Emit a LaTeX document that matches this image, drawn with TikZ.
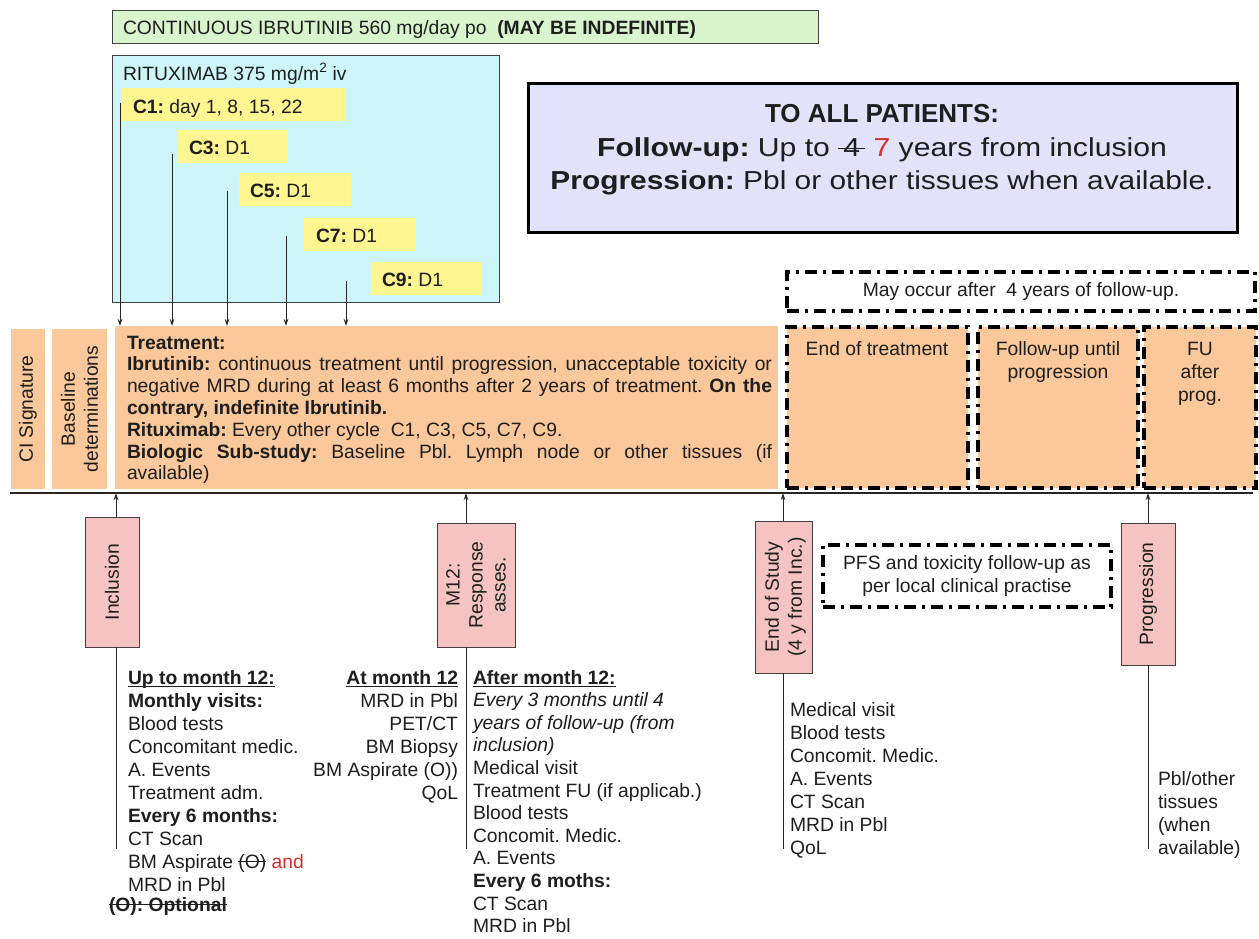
\documentclass[tikz,border=0pt]{standalone}
\usepackage{fontspec}
\setmainfont{Liberation Sans}
\usepackage{graphicx}
\usetikzlibrary{arrows.meta}
\definecolor{orangefill}{RGB}{250,200,155}
\definecolor{pinkfill}{RGB}{245,196,194}
\definecolor{cyanfill}{RGB}{206,246,250}
\definecolor{yellowfill}{RGB}{255,245,145}
\definecolor{greenfill}{RGB}{216,245,205}
\definecolor{purplefill}{RGB}{226,226,250}
\definecolor{redtext}{RGB}{215,45,45}
\definecolor{ink}{RGB}{30,30,30}
\frenchspacing
\newcommand{\tf}{\fontsize{19.3}{23}\selectfont}
\newsavebox{\lnbox}
\newcommand{\myul}[1]{\leavevmode\sbox{\lnbox}{#1}\rlap{\rule[-3.2pt]{\wd\lnbox}{1.3pt}}\usebox{\lnbox}}
\newcommand{\mystrike}[2][5.6pt]{\leavevmode\sbox{\lnbox}{#2}\rlap{\rule[#1]{\wd\lnbox}{1.4pt}}\usebox{\lnbox}}
\begin{document}
\begin{tikzpicture}[x=1pt,y=-1pt,font=\tf,text=ink,
  rect/.style={inner sep=0pt,anchor=north west,outer sep=0pt},
  thinbox/.style={rect,draw=black!75,line width=0.9pt},
  dashdot/.style={line width=3.6pt,dash pattern=on 12pt off 6pt on 3pt off 6pt,draw=black},
  txt/.style={inner sep=0pt,outer sep=0pt},
  conn/.style={draw=black!85,line width=0.9pt},
  arr/.style={conn,-{Stealth[length=7pt,width=4.5pt]}}]
\useasboundingbox (0,0) rectangle (1259,938);
\fill[white] (0,0) rectangle (1259,938);

% ---------- top: drug boxes ----------
\node[thinbox,fill=greenfill,minimum width=706,minimum height=33] (green) at (112,10) {};
\node[txt,anchor=base west] (greent) at (123,34) {CONTINUOUS IBRUTINIB 560 mg/day po\ \ \textbf{(MAY BE INDEFINITE)}};

\node[thinbox,fill=cyanfill,minimum width=387,minimum height=247] (cyan) at (112,55) {};
\node[txt,anchor=base west] (ritux) at (123,80) {RITUXIMAB 375 mg/m\textsuperscript{2} iv};

\node[rect,fill=yellowfill,minimum width=223,minimum height=33] (y1) at (122,88) {};
\node[txt,anchor=base west] (y1t) at (133,113) {\textbf{C1:} day 1, 8, 15, 22};
\node[rect,fill=yellowfill,minimum width=110,minimum height=33] (y3) at (178,130) {};
\node[txt,anchor=base west] (y3t) at (189,154) {\textbf{C3:} D1};
\node[rect,fill=yellowfill,minimum width=112,minimum height=33] (y5) at (239,173) {};
\node[txt,anchor=base west] (y5t) at (250,197) {\textbf{C5:} D1};
\node[rect,fill=yellowfill,minimum width=112,minimum height=33] (y7) at (304,218) {};
\node[txt,anchor=base west] (y7t) at (316,242) {\textbf{C7:} D1};
\node[rect,fill=yellowfill,minimum width=111,minimum height=33] (y9) at (371,262) {};
\node[txt,anchor=base west] (y9t) at (382,286) {\textbf{C9:} D1};

% ---------- summary box ----------
\node[rect,draw=black,line width=3pt,fill=purplefill,minimum width=709,minimum height=149] (allp) at (528,83) {};
\node[txt,anchor=base] (allp1) at (882,122) {\fontsize{26}{30}\selectfont\textbf{TO ALL PATIENTS:}};
\node[txt,anchor=base] (allp2) at (882,156) {\fontsize{26}{30}\selectfont\scalebox{1.16}[1]{\textbf{Follow-up:} Up to \mystrike[7pt]{\,4\,} \textcolor{redtext}{7} years from inclusion}};
\node[txt,anchor=base] (allp3) at (882,189) {\fontsize{26}{30}\selectfont\scalebox{1.15}[1]{\textbf{Progression:} Pbl or other tissues when available.}};

% ---------- phase boxes ----------
\node[rect,fill=orangefill,minimum width=34,minimum height=160] (ci) at (11,329) {};
\node[txt,rotate=90] (cit) at (ci.center) {CI Signature};
\node[rect,fill=orangefill,minimum width=55,minimum height=160] (base) at (52,329) {};
\node[txt,rotate=90,align=center] (baset) at (base.center) {Baseline\\determinations};
\node[rect,fill=orangefill,minimum width=663,minimum height=163] (treat) at (115,326) {};
\node[txt,anchor=base west] (treatt) at (127,349) {\parbox[t]{645pt}{\fontsize{19.3}{21.8}\selectfont
\textbf{Treatment:}\\
\textbf{Ibrutinib:} continuous treatment until progression, unacceptable toxicity or\linebreak
negative MRD during at least 6 months after 2 years of treatment. \textbf{On the}\linebreak
\textbf{contrary, indefinite Ibrutinib.}\\
\textbf{Rituximab:} Every other cycle\ \ C1, C3, C5, C7, C9.\\
\textbf{Biologic Sub-study:} Baseline Pbl. Lymph node or other tissues (if\linebreak
available)}};

\node[rect,dashdot,minimum width=468,minimum height=39] (may) at (787,272) {};
\node[txt] (mayt) at (may.center) {May occur after\ \ 4 years of follow-up.};

\node[rect,dashdot,fill=orangefill,minimum width=181,minimum height=161] (eot) at (787,327) {};
\node[txt,anchor=base] (eott) at (877,355) {End of treatment};
\node[rect,dashdot,fill=orangefill,minimum width=160,minimum height=161] (fup) at (978,327) {};
\node[txt,anchor=base] (fupt) at (1058,355) {\parbox[t]{150pt}{\centering Follow-up until\\progression}};
\node[rect,dashdot,fill=orangefill,minimum width=112,minimum height=161] (fua) at (1144,327) {};
\node[txt,anchor=base] (fuat) at (1200,355) {\parbox[t]{100pt}{\centering FU\\after\\prog.}};

% rituximab arrows
\coordinate (a1) at (120,103);
\coordinate (a3) at (172,154);
\coordinate (a5) at (227,191);
\coordinate (a7) at (286,236);
\coordinate (a9) at (346,281);
\foreach \c in {a1,a3,a5,a7,a9} \draw[arr] (\c) -- (\c |- treat.north);

% ---------- timeline ----------
\coordinate (tlL) at (10,493);
\coordinate (tlR) at (1253,493);
\draw[draw=black!85,line width=1.3pt] (tlL) -- (tlR);

% ---------- milestones ----------
\node[thinbox,fill=pinkfill,minimum width=54,minimum height=130] (incl) at (85,517) {};
\node[txt,rotate=90] (inclt) at (incl.center) {Inclusion};
\node[thinbox,fill=pinkfill,minimum width=78,minimum height=124] (m12) at (437,523) {};
\node[txt,rotate=90,align=center] (m12t) at (m12.center) {M12:\\Response\\asses.};
\node[thinbox,fill=pinkfill,minimum width=57,minimum height=152] (eos) at (755,521) {};
\node[txt,rotate=90,align=center] (eost) at ([xshift=2pt]eos.center) {End of Study\\(4 y from Inc.)};
\node[thinbox,fill=pinkfill,minimum width=54,minimum height=142] (prog) at (1121,523) {};
\node[txt,rotate=90] (progt) at (prog.center) {Progression};

\coordinate (xi) at (116,0);
\coordinate (xm) at (466,0);
\coordinate (xe) at (783,0);
\coordinate (xp) at (1148,0);
\coordinate (lineend) at (0,849);
\draw[arr] (incl.north -| xi) -- (tlL -| xi);
\draw[arr] (m12.north -| xm) -- (tlL -| xm);
\draw[arr] (eos.north -| xe) -- (tlL -| xe);
\draw[arr] (prog.north -| xp) -- (tlL -| xp);
\draw[conn] (incl.south -| xi) -- (lineend -| xi);
\draw[conn] (m12.south -| xm) -- (lineend -| xm);
\draw[conn] (eos.south -| xe) -- (lineend -| xe);
\draw[conn] (prog.south -| xp) -- (lineend -| xp);

\node[rect,dashdot,minimum width=288,minimum height=62] (pfs) at (823,545) {};
\node[txt,align=center] (pfst) at (pfs.center) {PFS and toxicity follow-up as\\per local clinical practise};

% ---------- visit lists ----------
\node[txt,anchor=base west] (col1) at (128,684) {\parbox[t]{300pt}{\tf
\myul{\textbf{Up to month 12:}}\\
\textbf{Monthly visits:}\\
Blood tests\\
Concomitant medic.\\
A. Events\\
Treatment adm.\\
\textbf{Every 6 months:}\\
CT Scan\\
BM Aspirate \mystrike{(O)} \textcolor{redtext}{and}\\
MRD in Pbl}};
\node[txt,anchor=base west] (opt) at (109,911) {\mystrike{\textbf{(O): Optional}}};

\node[txt,anchor=base east] (col2) at (458,684) {\parbox[t]{200pt}{\tf\raggedleft
\myul{\textbf{At month 12}}\\
MRD in Pbl\\
PET/CT\\
BM Biopsy\\
BM Aspirate (O))\\
QoL}};

\node[txt,anchor=base west] (col3) at (473,684) {\parbox[t]{300pt}{\fontsize{19.3}{22.6}\selectfont
\myul{\textbf{After month 12:}}\\
\textit{Every 3 months until 4}\\
\textit{years of follow-up (from}\\
\textit{inclusion)}\\
Medical visit\\
Treatment FU (if applicab.)\\
Blood tests\\
Concomit. Medic.\\
A. Events\\
\textbf{Every 6 moths:}\\
CT Scan\\
MRD in Pbl}};

\node[txt,anchor=base west] (col4) at (790,716) {\parbox[t]{250pt}{\tf
Medical visit\\
Blood tests\\
Concomit. Medic.\\
A. Events\\
CT Scan\\
MRD in Pbl\\
QoL}};

\node[txt,anchor=base west] (col5) at (1158,785) {\parbox[t]{100pt}{\tf
Pbl/other\\
tissues\\
(when\\
available)}};
\end{tikzpicture}
\end{document}
